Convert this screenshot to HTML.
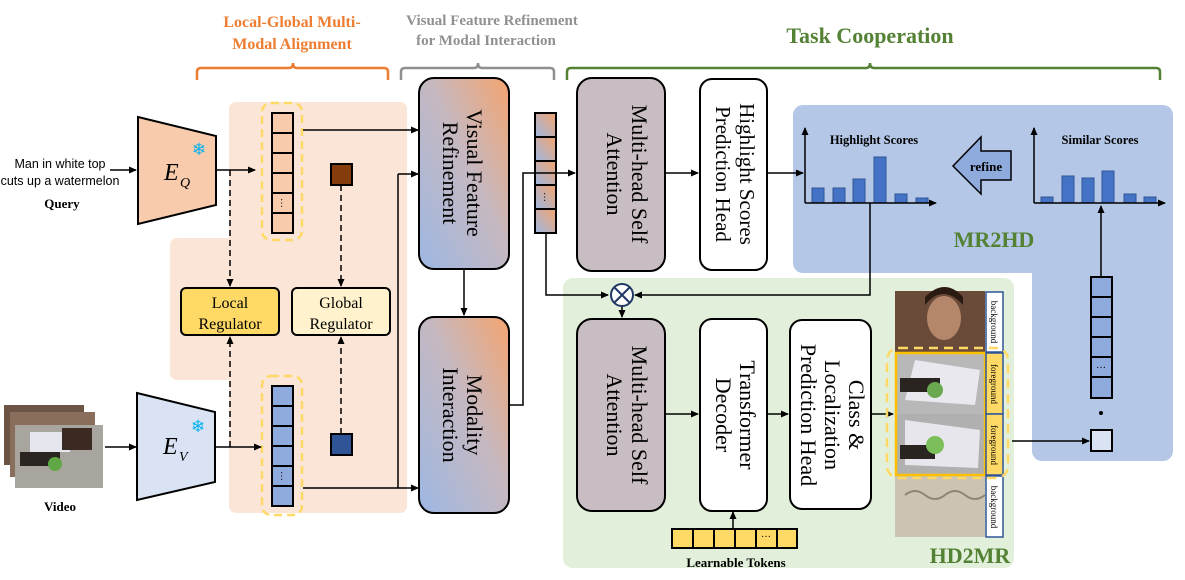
<!DOCTYPE html>
<html><head><meta charset="utf-8"><style>
html,body{margin:0;padding:0;background:#fff;}
svg{display:block;}
text{font-family:"Liberation Serif",serif;}
</style></head><body>
<svg width="1185" height="580" viewBox="0 0 1185 580" xmlns="http://www.w3.org/2000/svg">
<defs>
<marker id="ah" markerWidth="8" markerHeight="8" refX="7" refY="4" orient="auto" markerUnits="userSpaceOnUse"><path d="M0,0.5 L8,4 L0,7.5 z" fill="#000"/></marker>
<linearGradient id="g1" x1="1" y1="0" x2="0" y2="1"><stop offset="0" stop-color="#f4a46f"/><stop offset="0.45" stop-color="#c6b8c0"/><stop offset="1" stop-color="#9db7e3"/></linearGradient>
<linearGradient id="g2" x1="1" y1="0" x2="0" y2="1"><stop offset="0" stop-color="#f4a46f"/><stop offset="1" stop-color="#9db7e3"/></linearGradient>
</defs>

<!-- backgrounds -->
<path d="M236,102 H400 a7,7 0 0 1 7,7 V506 a7,7 0 0 1 -7,7 H236 a7,7 0 0 1 -7,-7 V380 H177 a7,7 0 0 1 -7,-7 V245 a7,7 0 0 1 7,-7 H229 V109 a7,7 0 0 1 7,-7z" fill="#fbe5d6"/>
<rect x="563" y="278" width="451" height="290" rx="10" fill="#e2efda"/>
<path d="M803,105 H1163 a10,10 0 0 1 10,10 V451 a10,10 0 0 1 -10,10 H1042 a10,10 0 0 1 -10,-10 V273 H803 a10,10 0 0 1 -10,-10 V115 a10,10 0 0 1 10,-10z" fill="#b4c7e7"/>

<!-- brackets -->
<path d="M197,80 V72 q0,-4 4,-4 H289 q4,0 4,-5 q0,5 4,5 H384 q4,0 4,4 V80" fill="none" stroke="#ed7d31" stroke-width="2.5"/>
<path d="M401,80 V72 q0,-4 4,-4 H474 q4,0 4,-5 q0,5 4,5 H550 q4,0 4,4 V80" fill="none" stroke="#909090" stroke-width="2.5"/>
<path d="M567,80 V72 q0,-4 4,-4 H866 q4,0 4,-5 q0,5 4,5 H1156 q4,0 4,4 V80" fill="none" stroke="#548235" stroke-width="2.5"/>
<text x="292" y="27" font-size="16" font-weight="bold" fill="#ed7d31" text-anchor="middle">Local-Global Multi-</text>
<text x="292" y="49" font-size="16" font-weight="bold" fill="#ed7d31" text-anchor="middle">Modal Alignment</text>
<text x="492" y="25" font-size="15" font-weight="bold" fill="#909090" text-anchor="middle">Visual Feature Refinement</text>
<text x="486" y="45" font-size="15" font-weight="bold" fill="#909090" text-anchor="middle">for Modal Interaction</text>
<text x="870" y="43" font-size="22" font-weight="bold" fill="#548235" text-anchor="middle">Task Cooperation</text>

<!-- query input -->
<text x="60" y="168" font-size="12.5" font-family="Liberation Sans, sans-serif" text-anchor="middle" style="font-family:'Liberation Sans',sans-serif">Man in white top</text>
<text x="60" y="185" font-size="12.5" text-anchor="middle" style="font-family:'Liberation Sans',sans-serif">cuts up a watermelon</text>
<text x="62" y="208" font-size="13" font-weight="bold" text-anchor="middle">Query</text>
<line x1="110" y1="170" x2="136" y2="170" stroke="#000" stroke-width="1.5" marker-end="url(#ah)"/>
<polygon points="138,117 216,136 216,205 138,224" fill="#f8cbad" stroke="#000" stroke-width="2"/>
<text x="164" y="180" font-size="24" font-style="italic">E</text><text x="180" y="187" font-size="14" font-style="italic">Q</text>
<text x="199" y="155" font-size="17" fill="#00b0f0" text-anchor="middle">❄</text>

<!-- video input -->
<rect x="4" y="405" width="80" height="60" fill="#6b5443"/>
<rect x="10" y="412" width="85" height="65" fill="#8a6e5c"/>
<rect x="15" y="425" width="88" height="63" fill="#a8a49e"/>
<rect x="30" y="432" width="40" height="20" fill="#e6e6ee"/>
<rect x="20" y="452" width="40" height="14" fill="#2b2522"/>
<circle cx="55" cy="464" r="7" fill="#5fa845"/>
<rect x="62" y="428" width="30" height="22" fill="#3b2a22"/>
<text x="60" y="511" font-size="13" font-weight="bold" text-anchor="middle">Video</text>
<line x1="105" y1="447" x2="136" y2="447" stroke="#000" stroke-width="1.5" marker-end="url(#ah)"/>
<polygon points="137,393 215,412 215,482 137,500" fill="#dae3f3" stroke="#000" stroke-width="2"/>
<text x="163" y="454" font-size="24" font-style="italic">E</text><text x="179" y="461" font-size="14" font-style="italic">V</text>
<text x="198" y="432" font-size="17" fill="#00b0f0" text-anchor="middle">❄</text>

<!-- token columns left -->
<rect x="262" y="103" width="40" height="137" rx="9" fill="none" stroke="#ffd966" stroke-width="2.5" stroke-dasharray="8,5"/>
<g stroke="#000" stroke-width="2" fill="#f8cbad">
<rect x="272" y="113" width="21" height="20"/><rect x="272" y="133" width="21" height="20"/><rect x="272" y="153" width="21" height="20"/><rect x="272" y="173" width="21" height="20"/><rect x="272" y="193" width="21" height="20"/><rect x="272" y="213" width="21" height="20"/>
</g>
<text x="282" y="207" font-size="10" text-anchor="middle" transform="rotate(90 282 203)">···</text>
<rect x="262" y="376" width="40" height="139" rx="9" fill="none" stroke="#ffd966" stroke-width="2.5" stroke-dasharray="8,5"/>
<g stroke="#000" stroke-width="2" fill="#8faadc">
<rect x="272" y="386" width="21" height="20"/><rect x="272" y="406" width="21" height="20"/><rect x="272" y="426" width="21" height="20"/><rect x="272" y="446" width="21" height="20"/><rect x="272" y="466" width="21" height="20"/><rect x="272" y="486" width="21" height="20"/>
</g>
<text x="282" y="480" font-size="10" text-anchor="middle" transform="rotate(90 282 476)">···</text>
<rect x="331" y="164" width="21" height="21" fill="#843c0c" stroke="#000" stroke-width="2"/>
<rect x="331" y="434" width="21" height="21" fill="#2f5597" stroke="#000" stroke-width="2"/>

<!-- regulators -->
<rect x="181" y="288" width="98" height="47" rx="5" fill="#ffd966" stroke="#000" stroke-width="2"/>
<text x="230" y="308" font-size="16" text-anchor="middle">Local</text>
<text x="230" y="329" font-size="16" text-anchor="middle">Regulator</text>
<rect x="292" y="288" width="98" height="47" rx="5" fill="#fff2cc" stroke="#000" stroke-width="2"/>
<text x="341" y="308" font-size="16" text-anchor="middle">Global</text>
<text x="341" y="329" font-size="16" text-anchor="middle">Regulator</text>
<g stroke="#000" stroke-width="1.5" stroke-dasharray="6,4" fill="none">
<line x1="230" y1="170" x2="230" y2="286" marker-end="url(#ah)"/>
<line x1="230" y1="447" x2="230" y2="337" marker-end="url(#ah)"/>
<line x1="341" y1="185" x2="341" y2="286" marker-end="url(#ah)"/>
<line x1="341" y1="434" x2="341" y2="337" marker-end="url(#ah)"/>
</g>
<g stroke="#000" stroke-width="1.5" fill="none">
<line x1="216" y1="170" x2="255" y2="170" marker-end="url(#ah)"/>
<line x1="215" y1="447" x2="261" y2="447" marker-end="url(#ah)"/>
<line x1="303" y1="130" x2="418" y2="130" marker-end="url(#ah)"/>
<line x1="303" y1="488" x2="418" y2="488" marker-end="url(#ah)"/>
<line x1="398" y1="488" x2="398" y2="174"/>
<line x1="398" y1="174" x2="418" y2="174" marker-end="url(#ah)"/>
</g>

<!-- VFR & MI -->
<rect x="419" y="78" width="90" height="191" rx="15" fill="url(#g1)" stroke="#000" stroke-width="2"/>
<text transform="translate(467,173) rotate(90)" font-size="22" text-anchor="middle">Visual Feature</text>
<text transform="translate(443,173) rotate(90)" font-size="22" text-anchor="middle">Refinement</text>
<rect x="419" y="317" width="90" height="196" rx="15" fill="url(#g1)" stroke="#000" stroke-width="2"/>
<text transform="translate(467,415) rotate(90)" font-size="22" text-anchor="middle">Modality</text>
<text transform="translate(443,415) rotate(90)" font-size="22" text-anchor="middle">Interaction</text>
<line x1="464" y1="269" x2="464" y2="315" stroke="#000" stroke-width="1.5" marker-end="url(#ah)"/>

<!-- mid column -->
<g stroke="#000" stroke-width="2" fill="url(#g2)">
<rect x="535" y="113" width="21" height="24"/><rect x="535" y="137" width="21" height="24"/><rect x="535" y="161" width="21" height="24"/><rect x="535" y="185" width="21" height="24"/><rect x="535" y="209" width="21" height="24"/>
</g>
<text x="545" y="201" font-size="10" text-anchor="middle" transform="rotate(90 545 197)">···</text>
<g stroke="#000" stroke-width="1.5" fill="none">
<polyline points="509,405 523,405 523,173 575,173" marker-end="url(#ah)"/>
<polyline points="546,233 546,295 608,295" marker-end="url(#ah)"/>
<polyline points="870,203 870,295 635,295" marker-end="url(#ah)"/>
<line x1="622" y1="306" x2="622" y2="317" marker-end="url(#ah)"/>
<line x1="665" y1="173" x2="698" y2="173" marker-end="url(#ah)"/>
<line x1="767" y1="173" x2="803" y2="173" marker-end="url(#ah)"/>
<line x1="665" y1="414" x2="698" y2="414" marker-end="url(#ah)"/>
<line x1="767" y1="414" x2="788" y2="414" marker-end="url(#ah)"/>
<line x1="871" y1="414" x2="893" y2="414" marker-end="url(#ah)"/>
<line x1="733" y1="540" x2="733" y2="512" marker-end="url(#ah)"/>
<line x1="1012" y1="441" x2="1089" y2="441" marker-end="url(#ah)"/>
<line x1="1101" y1="277" x2="1101" y2="206" marker-end="url(#ah)"/>
</g>
<circle cx="622" cy="295" r="11" fill="#fff" stroke="#1f3864" stroke-width="2"/>
<path d="M614,287 L630,303 M630,287 L614,303" stroke="#1f3864" stroke-width="2"/>

<!-- MSA1, HSPH -->
<rect x="577" y="78" width="88" height="193" rx="15" fill="#c8bdc2" stroke="#000" stroke-width="2"/>
<text transform="translate(632,174) rotate(90)" font-size="22" text-anchor="middle">Multi-head Self</text>
<text transform="translate(607,174) rotate(90)" font-size="22" text-anchor="middle">Attention</text>
<rect x="700" y="79" width="67" height="191" rx="12" fill="#fff" stroke="#000" stroke-width="2"/>
<text transform="translate(740,174) rotate(90)" font-size="21" text-anchor="middle">Highlight Scores</text>
<text transform="translate(716,174) rotate(90)" font-size="21" text-anchor="middle">Prediction Head</text>

<!-- MSA2, TD, CLPH -->
<rect x="577" y="319" width="88" height="192" rx="15" fill="#c8bdc2" stroke="#000" stroke-width="2"/>
<text transform="translate(632,415) rotate(90)" font-size="22" text-anchor="middle">Multi-head Self</text>
<text transform="translate(607,415) rotate(90)" font-size="22" text-anchor="middle">Attention</text>
<rect x="700" y="319" width="67" height="192" rx="12" fill="#fff" stroke="#000" stroke-width="2"/>
<text transform="translate(740,415) rotate(90)" font-size="22" text-anchor="middle">Transformer</text>
<text transform="translate(716,415) rotate(90)" font-size="22" text-anchor="middle">Decoder</text>
<rect x="790" y="320" width="81" height="189" rx="12" fill="#fff" stroke="#000" stroke-width="2"/>
<text transform="translate(849,415) rotate(90)" font-size="22" text-anchor="middle">Class &amp;</text>
<text transform="translate(825,415) rotate(90)" font-size="22" text-anchor="middle">Localization</text>
<text transform="translate(801,415) rotate(90)" font-size="22" text-anchor="middle">Prediction Head</text>

<!-- learnable tokens -->
<g stroke="#000" stroke-width="2" fill="#ffd966">
<rect x="672" y="529" width="21" height="19"/><rect x="693" y="529" width="21" height="19"/><rect x="714" y="529" width="21" height="19"/><rect x="735" y="529" width="21" height="19"/><rect x="756" y="529" width="21" height="19"/><rect x="777" y="529" width="20" height="19"/>
</g>
<text x="766" y="540" font-size="10" text-anchor="middle">···</text>
<text x="736" y="567" font-size="13" font-weight="bold" text-anchor="middle">Learnable Tokens</text>

<!-- highlight chart -->
<g fill="#4472c4" stroke="#2f5597" stroke-width="1">
<rect x="812" y="188" width="12" height="15"/><rect x="833" y="188" width="12" height="15"/><rect x="853" y="179" width="12" height="24"/><rect x="874" y="157" width="12" height="46"/><rect x="895" y="194" width="12" height="9"/><rect x="916" y="198" width="12" height="5"/>
</g>
<g stroke="#000" stroke-width="1.5" fill="none">
<line x1="805" y1="203" x2="805" y2="128" marker-end="url(#ah)"/>
<line x1="805" y1="203" x2="936" y2="203" marker-end="url(#ah)"/>
</g>
<text x="874" y="144" font-size="12.5" font-weight="bold" text-anchor="middle">Highlight Scores</text>
<!-- refine -->
<path d="M953,166 L981,137 V151 H1011 V180 H981 V194 Z" fill="#8faadc" stroke="#000" stroke-width="1.5"/>
<text x="986" y="171" font-size="13" font-weight="bold" text-anchor="middle">refine</text>
<!-- similar chart -->
<g fill="#4472c4" stroke="#2f5597" stroke-width="1">
<rect x="1041" y="197" width="12" height="6"/><rect x="1062" y="176" width="12" height="27"/><rect x="1082" y="178" width="12" height="25"/><rect x="1102" y="171" width="12" height="32"/><rect x="1124" y="194" width="12" height="9"/><rect x="1144" y="197" width="12" height="6"/>
</g>
<g stroke="#000" stroke-width="1.5" fill="none">
<line x1="1034" y1="203" x2="1034" y2="128" marker-end="url(#ah)"/>
<line x1="1034" y1="203" x2="1165" y2="203" marker-end="url(#ah)"/>
</g>
<text x="1100" y="144" font-size="12.5" font-weight="bold" text-anchor="middle">Similar Scores</text>
<text x="994" y="247" font-size="22" font-weight="bold" fill="#548235" text-anchor="middle">MR2HD</text>

<!-- right column -->
<g stroke="#000" stroke-width="2" fill="#8faadc">
<rect x="1091" y="277" width="21" height="20"/><rect x="1091" y="297" width="21" height="20"/><rect x="1091" y="317" width="21" height="20"/><rect x="1091" y="337" width="21" height="20"/><rect x="1091" y="357" width="21" height="20"/><rect x="1091" y="377" width="21" height="21"/>
</g>
<text x="1101" y="371" font-size="10" text-anchor="middle">···</text>
<circle cx="1101" cy="413" r="2" fill="#000"/>
<rect x="1091" y="430" width="21" height="21" fill="#dae3f3" stroke="#000" stroke-width="2"/>

<!-- frames -->
<rect x="895" y="291" width="90" height="62" fill="#6a4a38"/>
<ellipse cx="944" cy="318" rx="17" ry="22" fill="#b5876a"/>
<path d="M925,305 q18,-22 38,0 v-8 q-18,-20 -38,0z" fill="#2a1a12"/>
<rect x="895" y="353" width="90" height="61" fill="#b8b8b8"/>
<path d="M915,360 L980,370 L975,405 L905,400z" fill="#e8e8ee"/>
<rect x="900" y="378" width="40" height="14" fill="#2a2420"/>
<circle cx="935" cy="390" r="8" fill="#6aa84f"/>
<rect x="895" y="414" width="90" height="61" fill="#b0b0b0"/>
<path d="M905,420 L980,430 L978,468 L905,465z" fill="#e6e6ec"/>
<rect x="900" y="445" width="35" height="14" fill="#2a2420"/>
<circle cx="935" cy="445" r="9" fill="#7cbf5a"/>
<rect x="895" y="475" width="90" height="62" fill="#cbc3b4"/>
<path d="M905,495 q10,-8 20,0 t20,0 t20,0 t20,0" fill="none" stroke="#8d8576" stroke-width="2"/>
<rect x="896" y="353" width="89" height="122" fill="none" stroke="#ffc000" stroke-width="2.5"/>
<rect x="986" y="292" width="17" height="60" fill="#fff" stroke="#2f5597" stroke-width="1.5"/>
<rect x="986" y="353" width="17" height="61" fill="#ffd966" stroke="#2f5597" stroke-width="1.5"/>
<rect x="986" y="414" width="17" height="61" fill="#ffd966" stroke="#2f5597" stroke-width="1.5"/>
<rect x="986" y="476" width="17" height="61" fill="#fff" stroke="#2f5597" stroke-width="1.5"/>
<g font-size="9" style="font-family:'Liberation Sans',sans-serif" text-anchor="middle">
<text transform="translate(991,322) rotate(90)">background</text>
<text transform="translate(991,384) rotate(90)">foreground</text>
<text transform="translate(991,445) rotate(90)">foreground</text>
<text transform="translate(991,507) rotate(90)">background</text>
</g>
<rect x="887" y="348" width="121" height="130" rx="12" fill="none" stroke="#ffd966" stroke-width="2.5" stroke-dasharray="9,6"/>
<text x="970" y="563" font-size="22" font-weight="bold" fill="#548235" text-anchor="middle">HD2MR</text>
</svg>
</body></html>
